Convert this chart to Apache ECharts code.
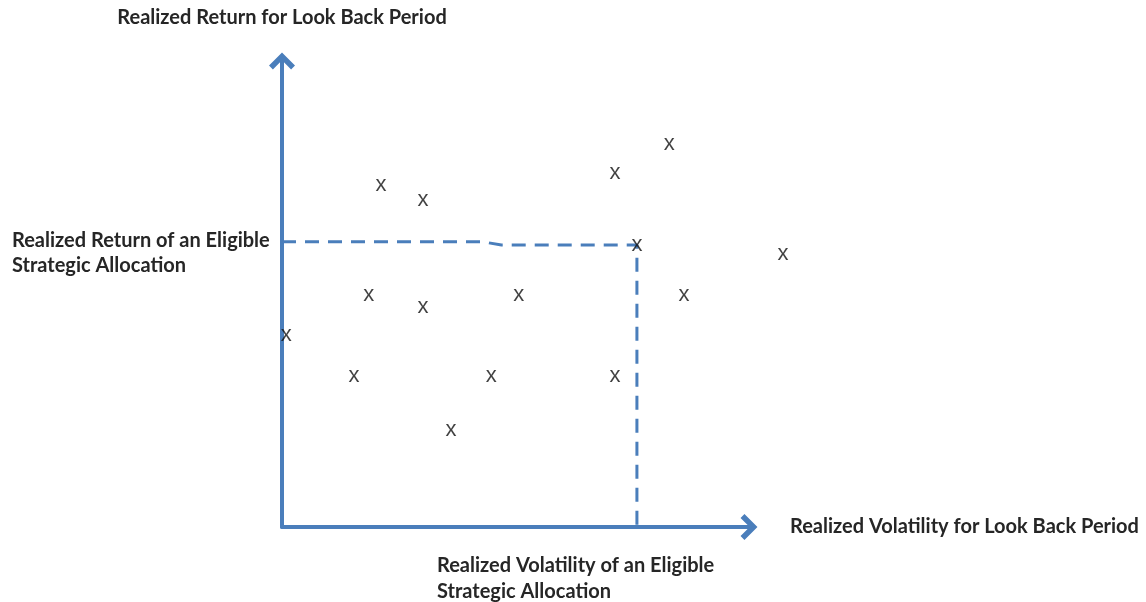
<!DOCTYPE html>
<html>
<head>
<meta charset="utf-8">
<script src="https://cdn.jsdelivr.net/npm/echarts@6/dist/echarts.min.js"></script>
<style>
    html, body { margin: 0; padding: 0; background: #fff; }
    #chart { width: 1146px; height: 602px; }
</style>
</head>
<body>
<div id="chart"></div>
<script>
// 散点 (x = 波动率, y = 收益)
var pointsX = [21.2, 30.2, 71.3, 82.9, 76.0, 107.3, 18.6, 30.2, 50.7, 86.1, 0.9, 15.4, 44.8, 71.3, 36.2];
var pointsY = [73.4, 70.2, 76.0, 82.2, 60.5, 58.6, 49.8, 47.2, 49.8, 49.8, 41.2, 32.4, 32.4, 32.4, 20.8];
// 虚线 (合格战略配置)
var guideX = [0, 43, 47, 76, 76];
var guideY = [61.2, 61.2, 60.5, 60.5, 0];

var yName = 'Realized Return for Look Back Period';
var xName = 'Realized Volatility for Look Back Period';
var yGuideText = 'Realized Return of an Eligible\nStrategic Allocation';
var xGuideText = 'Realized Volatility of an Eligible\nStrategic Allocation';

var blue = '#4a7ebb';
var textColor = '#262626';
var font = 'Lato';
var fontSize = 20;
// 开放式箭头
var chevron = 'path://M10,0 L20,10 L17,13 L10,6 L3,13 L0,10 Z';

var scatterData = [];
for (let i = 0; i < pointsX.length; i++) {
    scatterData.push([pointsX[i], pointsY[i]]);
}
var guideData = [];
for (let i = 0; i < guideX.length; i++) {
    guideData.push([guideX[i], guideY[i]]);
}

var myChart = echarts.init(document.getElementById('chart'));
var option = {
    animation: false,
    title: [{
        text: yGuideText,
        left: 12,
        top: 228,
        padding: 0,
        textStyle: { fontFamily: font, fontWeight: 'bold', fontSize: fontSize, lineHeight: 25, color: textColor }
    }, {
        text: xGuideText,
        left: 437,
        top: 553,
        padding: 0,
        textStyle: { fontFamily: font, fontWeight: 'bold', fontSize: fontSize, lineHeight: 26, color: textColor }
    }],
    grid: { left: 282, right: 397, top: 61, bottom: 75 },
    xAxis: {
        type: 'value',
        min: 0,
        max: 100,
        name: xName,
        nameLocation: 'end',
        nameGap: 41,
        nameTextStyle: { fontFamily: font, fontWeight: 'bold', fontSize: fontSize, color: textColor },
        axisLine: {
            show: true,
            symbol: ['none', chevron],
            symbolSize: [26, 20],
            lineStyle: { color: blue, width: 4 }
        },
        axisTick: { show: false },
        axisLabel: { show: false },
        splitLine: { show: false }
    },
    yAxis: {
        type: 'value',
        min: 0,
        max: 100,
        name: yName,
        nameLocation: 'end',
        nameGap: 33,
        nameTextStyle: { fontFamily: font, fontWeight: 'bold', fontSize: fontSize, color: textColor, align: 'center' },
        axisLine: {
            show: true,
            symbol: ['none', chevron],
            symbolSize: [26, 20],
            lineStyle: { color: blue, width: 4 }
        },
        axisTick: { show: false },
        axisLabel: { show: false },
        splitLine: { show: false }
    },
    series: [{
        type: 'line',
        data: guideData,
        symbol: 'none',
        clip: false,
        z: 1,
        lineStyle: { color: blue, width: 3, type: [14, 9] }
    }, {
        type: 'scatter',
        data: scatterData,
        symbolSize: 1,
        itemStyle: { color: 'rgba(0,0,0,0)' },
        clip: false,
        z: 3,
        label: {
            show: true,
            position: 'inside',
            formatter: 'x',
            offset: [0, 0],
            fontFamily: 'Liberation Sans',
            fontSize: 22,
            color: '#111'
        }
    }]
};
option && myChart.setOption(option);
</script>
</body>
</html>
